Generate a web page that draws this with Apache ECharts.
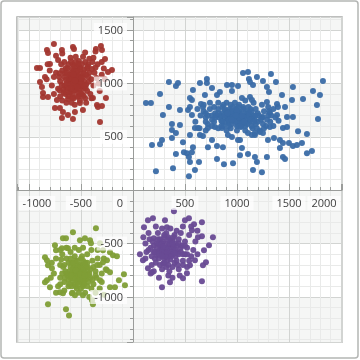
<!DOCTYPE html>
<html>
<head>
<meta charset="utf-8">
<script src="https://cdn.jsdelivr.net/npm/echarts@6/dist/echarts.min.js"></script>
<style>
html,body{margin:0;padding:0;background:#fff;}
#c{width:360px;height:360px;}
</style>
</head>
<body>
<div id="c"></div>
<script>
const redPoints = [
[-760,1370],[-827,1313],[-817,1285],[-683,1313],[-577,1341],[-567,1323],[-308,1351],[-298,1313],[-356,1323],[-269,1229],[-923,1144],[-894,1144],[-798,1182],[-202,1126],[-240,1107],[-894,1013],[-846,1060],[-875,966],[-865,910],[-865,872],[-817,872],[-731,844],[-750,769],[-702,769],[-683,675],[-625,704],[-577,666],[-673,732],[-558,732],[-481,750],[-346,797],[-337,779],[-298,788],[-260,863],[-317,638],[-385,863],[-510,816],
[-560,1010],[-600,1040],[-520,980],[-640,960],[-480,1060],[-590,1100],[-530,920],[-700,1020],[-450,990],[-620,880],[-510,1150],[-680,1120],[-420,1100],[-570,860],[-660,1060],[-490,900],[-540,1080],[-610,990],[-470,1130],[-720,950],[-400,1040],[-580,1180],[-650,900],[-500,1020],[-550,940],[-630,1140],[-440,930],[-590,820],[-760,1060],[-380,980],[-520,1210],[-700,880],[-460,860],[-540,1000],[-580,1060],[-620,1020],[-500,1090],[-560,960],[-660,980],[-430,1180],[-740,1100],[-600,920],[-480,950],[-530,1040],[-570,1120],[-690,1180],[-410,900],[-350,1050],[-780,980],[-640,820],[-510,840],[-460,1200],[-360,1150],[-330,1000],[-720,1220],[-600,1240],[-550,1250],[-480,1250],[-420,1230],[-390,1200],[-340,1180],[-370,1100],[-320,930],[-800,1120],[-760,900],[-680,840],[-560,800],[-450,820],[-400,860],[-620,1180],[-660,1200],[-540,1160],[-500,970],[-590,970],[-470,1020],[-640,1100],[-710,1060],[-430,1060],[-520,880],[-580,900],[-610,1080],[-550,1050],[-490,1180],[-530,1120],[-670,940],[-440,1140],[-560,1080],[-590,1020],[-510,1060],[-620,950],[-450,1080],[-380,1240],[-300,1080],[-300,1200],[-280,1140],[-270,1040],[-830,1040],[-820,1180],[-740,1260],[-680,1280],[-460,1290],[-360,1300],
[-545,1025],[-575,995],[-525,1065],[-605,1055],[-565,935],[-495,1005],[-635,1005],[-585,1135],[-515,945],[-655,1095],[-475,1095],[-545,1115],[-615,915],[-455,955],[-685,985],[-535,875],[-595,955],[-505,1135],[-565,1165],[-645,1145],[-425,1015],[-705,1095],[-525,1185],[-585,865],[-475,885],[-665,915],[-435,1155],[-555,1025],[-615,1045],[-495,1045],[-575,1085],[-535,965],[-645,1035],[-465,975],[-595,1205],[-705,935],[-395,1135],[-625,855],[-505,905],[-555,1200]
];
const bluePoints = [
[125,816],[173,816],[260,900],[346,1013],[413,975],[433,1004],[346,779],[288,704],[452,750],[375,619],[375,563],[413,535],[375,488],[279,469],[260,431],[183,422],[413,338],[385,206],[221,178],[452,610],
[1058,1097],[1106,1107],[1327,1088],[1192,1060],[1115,1041],[1125,1013],[1375,1013],[1250,1022],[711,1041],[711,1004],[644,1004],[904,985],[952,985],[1010,975],[1154,985],[1288,966],[1308,919],[1538,966],[1827,1022],[1731,929],[1798,891],[577,938],[952,929],[760,957],[836,919],[808,891],[692,891],[548,863],[567,844],[1048,863],[1125,872],[1144,844],[1288,825],[1433,891],[1529,844],[1635,854],[1769,797],[1779,666],[1385,807],[1394,779],[1462,779],[654,807],[673,779],[548,779],[529,750],[567,704],[1481,685],[1538,685],[1385,704],[1250,685],[1317,722],[1481,591],[1442,582],[1587,553],[1673,525],[1317,591],[1221,544],[1250,535],[1173,516],[1298,469],[1356,488],[1413,469],[1413,394],[1442,441],[1500,441],[1538,413],[1577,422],[1625,441],[1721,366],[1673,347],[1442,310],[1462,291],[1288,310],[1173,310],[1192,263],[1106,338],[1029,328],[1048,394],[1154,188],[1240,169],[962,253],[875,244],[808,291],[635,263],[596,188],[538,131],[490,356],[519,347],[577,403],[567,356],[538,310],[548,263],[481,450],[721,403],[808,413],[865,403],[1010,469],[1029,469],[760,469],[913,516],[952,497],[644,516],[673,507],[548,516],[596,582],[625,582],[721,582],[788,591],[856,582],[1106,535],[1144,516],[1173,535],[1038,591],
[980,680],[900,700],[1050,660],[850,650],[1100,720],[950,620],[1020,740],[800,700],[1150,680],[930,760],[870,600],[1080,600],[1000,700],[960,650],[1120,640],[780,640],[1200,720],[1060,780],[890,740],[820,760],[1180,620],[940,580],[1010,610],[1070,700],[910,670],[860,720],[990,760],[1130,760],[760,700],[1240,680],[1030,650],[970,720],[880,680],[1160,700],[920,630],[1040,700],[1090,660],[840,700],[1000,640],[950,690],[1110,700],[1200,640],[1260,740],[740,760],[700,680],[720,620],[680,740],[650,700],[1300,700],[1320,640],[1280,600],[1220,560],[1150,580],[1080,560],[1000,560],[900,560],[820,580],[760,600],[1240,800],[1160,820],[1080,840],[980,820],[900,820],[820,820],[740,820],[680,800],[1300,780],[1350,760],[1400,650],[1350,600],[620,760],[600,640],[640,580],[700,560],[1030,720],[960,740],[1050,620],[930,700],[1000,670],[1070,680],[890,640],[1120,680],[1010,780],[940,800],[1180,760],[860,780],[790,720],[1140,600],[1250,620],[700,720],
[1000,720],[960,700],[1040,680],[920,660],[1080,740],[880,700],[1120,720],[1000,600],[940,740],[1060,640],[830,680],[1170,660],[980,640],[1020,680],[900,740],[1100,620],[860,640],[1140,740],[960,780],[1060,760],[790,680],[1210,700],[920,600],[1040,600],[880,760],[1180,700],[1000,740],[950,660],[1050,700],[1130,660],[820,720],[990,700],[1070,640],[910,720],[1160,640],[1020,800],[870,800],[1110,780],[760,660],[1230,660],[1290,660],[1330,700],[720,700],[1190,580],[850,600],[1260,580],[780,780],[1310,740],[700,640],[1370,680]
];
const greenPoints = [
[-356,-356],[-577,-394],[-673,-450],[-644,-450],[-750,-516],[-740,-563],[-683,-544],[-625,-544],[-510,-469],[-462,-450],[-413,-469],[-404,-497],[-317,-497],[-288,-563],[-221,-582],[-192,-610],[-154,-619],[-250,-657],[-846,-629],[-827,-657],[-817,-704],[-779,-732],[-827,-844],[-846,-863],[-798,-910],[-702,-957],[-673,-966],[-587,-966],[-558,-985],[-481,-985],[-394,-1032],[-385,-1069],[-817,-1069],[-644,-1116],[-615,-1173],[-221,-910],[-173,-910],[-87,-788],[-77,-891],[-135,-844],[-250,-750],[-221,-769],[-317,-844],[-288,-675],
[-510,-800],[-560,-760],[-460,-840],[-600,-820],[-420,-780],[-540,-700],[-480,-900],[-650,-760],[-380,-720],[-590,-900],[-500,-640],[-440,-680],[-620,-680],[-350,-820],[-700,-820],[-520,-960],[-400,-920],[-560,-620],[-470,-740],[-530,-860],[-610,-760],[-450,-800],[-580,-850],[-490,-700],[-660,-860],[-360,-760],[-540,-800],[-500,-860],[-430,-860],[-570,-720],[-640,-640],[-320,-700],[-300,-780],[-700,-700],[-720,-900],[-460,-960],[-380,-880],[-600,-580],[-440,-600],[-520,-560],[-680,-600],[-340,-640],[-760,-780],[-740,-640],[-660,-940],[-580,-960],[-420,-1000],[-320,-920],[-300,-860],[-560,-880],[-480,-780],[-520,-740],[-600,-720],[-450,-720],[-410,-820],[-630,-800],[-550,-660],[-490,-620],[-390,-660],[-670,-720],[-620,-900],[-540,-920],[-470,-880],[-360,-960],[-280,-640],[-260,-740],[-280,-980],[-740,-960],[-790,-820],[-780,-680],[-700,-560],[-640,-540],[-560,-540],[-480,-540],[-400,-560],[-340,-560],[-500,-760],[-530,-820],[-470,-820],[-570,-790],[-440,-760],[-510,-700],[-590,-680],
[-520,-780],[-540,-830],[-490,-810],[-560,-800],[-470,-770],[-600,-780],[-510,-850],[-450,-830],[-580,-740],[-500,-730],[-620,-840],[-430,-800],[-550,-900],[-480,-860],[-530,-720],[-640,-780],[-410,-740],[-600,-640],[-460,-680],[-570,-680],[-680,-780],[-390,-840],[-500,-920],[-440,-900],[-610,-880],[-530,-660],[-660,-700],[-360,-800],[-480,-660],[-700,-880],[-550,-750],[-505,-790],[-575,-825],[-465,-800],[-525,-880],[-595,-800],[-435,-720],[-655,-820],[-345,-700],[-690,-650]
];
const purplePoints = [
[394,-197],[106,-347],[144,-281],[192,-263],[308,-281],[327,-347],[67,-600],[96,-657],[144,-732],[183,-769],[279,-910],[356,-863],[538,-263],[500,-281],[587,-319],[663,-300],[567,-375],[625,-441],[663,-431],[769,-441],[731,-516],[683,-563],[702,-675],[673,-704],[596,-657],[548,-704],[519,-779],[663,-854],[481,-826],
[330,-560],[280,-520],[380,-600],[240,-580],[420,-520],[300,-640],[360,-480],[200,-520],[460,-580],[340,-700],[260,-460],[400,-420],[180,-620],[480,-660],[320,-400],[220,-680],[440,-460],[300,-560],[370,-540],[250,-640],[410,-620],[350,-620],[290,-480],[150,-560],[520,-540],[500,-480],[160,-460],[240,-400],[380,-720],[280,-740],[440,-740],[200,-760],[340,-800],[420,-380],[360,-360],[280,-360],[220,-340],[540,-420],[560,-620],[120,-500],[120,-640],[180,-700],[260,-560],[320,-600],[390,-560],[310,-500],[350,-520],[270,-600],[430,-580],[230,-500],[470,-520],[330,-660],[400,-680],[290,-690],[200,-450],[460,-400],[520,-720],[580,-560],[600,-480],[150,-400],[170,-780],[250,-820],[380,-820],[450,-800],[500,-600],[340,-440],[300,-440],[380,-470],[260,-520],[310,-620],[360,-580],[230,-610],[410,-500],[480,-700],[130,-580],[210,-580],[540,-660],[620,-600],[620,-380],[560,-340],[480,-340],[100,-440],
[330,-540],[300,-580],[360,-600],[280,-560],[350,-500],[310,-540],[390,-530],[250,-600],[410,-560],[330,-620],[270,-500],[360,-650],[230,-540],[440,-600],[300,-680],[380,-500],[200,-580],[460,-540],[340,-460],[280,-620],[420,-660],[250,-500],[320,-720],[390,-440],[210,-640],[480,-600],[300,-420],[350,-760],[170,-540],[500,-520],[260,-700],[430,-700],[190,-480],[440,-500],[330,-580],[370,-620],[290,-530],[400,-590],[240,-460],[520,-600]
];

const X_MIN = -1115, X_MAX = 2010, Y_MIN = -1422, Y_MAX = 1622;

const chart = echarts.init(document.getElementById('c'), null, {renderer: 'canvas'});

const labelBox = {
  fontSize: 11, fontFamily: 'Open Sans', color: '#404040',
  backgroundColor: 'rgba(255,255,255,0.7)', padding: [2, 4, 1, 4]
};

function xFmt(v) {
  if (Math.abs(v % 500) > 0.001) return '';
  if (v === 0) return '{a|0}{s0| }';
  if (v === -1000) return '{s1| }{a|-1000}';
  if (v === 2000) return '{a|2000}{s2| }';
  return '{a|' + v + '}';
}
function yFmt(v) {
  if (Math.abs(v % 500) > 0.001) return '';
  if (v === 0) return '';
  return '{a|' + v + '}';
}

// plot area 17..342 both ways; zero lines at x=133, y=190
const PL = 17, PT = 17, PW = 325, PH = 325;
const ZX = 133, ZY = 190;

const gridAxisCommon = {
  type: 'value', splitNumber: 5, gridIndex: 0,
  axisLine: {show: false, onZero: false}, axisTick: {show: false}, axisLabel: {show: false},
  splitLine: {show: true, lineStyle: {color: '#d2d4d2', width: 1}},
  minorTick: {show: false, splitNumber: 5},
  minorSplitLine: {show: true, lineStyle: {color: '#e9eae9', width: 1}},
  z: 0
};
const hiddenAxis = {type: 'value', show: false, min: 0, max: 1,
  axisLine: {show: false, onZero: false}, splitLine: {show: false}, axisLabel: {show: false}, axisTick: {show: false}};

const series = [
  {data: redPoints, color: '#a2362f'},
  {data: bluePoints, color: '#3a6ba7'},
  {data: greenPoints, color: '#7f9e36'},
  {data: purplePoints, color: '#684a94'}
].map(s => ({
  type: 'scatter', xAxisIndex: 0, yAxisIndex: 0, data: s.data,
  symbolSize: 6, itemStyle: {color: s.color, opacity: 0.95}, z: 2,
  silent: true, animation: false
}));

chart.setOption({
  animation: false,
  backgroundColor: '#ffffff',
  grid: [
    {left: PL, top: PT, width: PW, height: PH, show: true, borderColor: '#a9aba9', borderWidth: 1.5,
      backgroundColor: 'transparent', containLabel: false, outerBoundsMode: 'none'},
    {left: PL, top: PT, width: PW, height: ZY - PT, show: false, containLabel: false, outerBoundsMode: 'none'},
    {left: ZX, top: PT, width: PL + PW - ZX, height: PH, show: false, containLabel: false, outerBoundsMode: 'none'}
  ],
  graphic: [{
    type: 'rect', shape: {x: 1, y: 1, width: 357, height: 357, r: 3},
    style: {fill: 'none', stroke: '#b4b6b4', lineWidth: 1.5}, z: -1, silent: true
  }],
  xAxis: [
    Object.assign({}, gridAxisCommon, {min: X_MIN, max: X_MAX, position: 'bottom'}),
    {
      type: 'value', gridIndex: 1, min: X_MIN, max: X_MAX, splitNumber: 5, position: 'bottom', z: 10,
      axisLine: {show: true, onZero: false, lineStyle: {color: '#9a9c9a', width: 1}},
      axisTick: {show: true, inside: true, length: 6, lineStyle: {color: '#9a9c9a'}},
      minorTick: {show: true, splitNumber: 5, length: 3, lineStyle: {color: '#9a9c9a'}},
      splitLine: {show: false}, minorSplitLine: {show: false}, splitArea: {show: false},
      axisLabel: {show: true, margin: 6, showMinLabel: false, showMaxLabel: false, formatter: xFmt,
        rich: {a: labelBox, s0: {width: 26}, s1: {width: 16}, s2: {width: 34}}}
    },
    Object.assign({gridIndex: 2, position: 'bottom'}, hiddenAxis)
  ],
  yAxis: [
    Object.assign({}, gridAxisCommon, {min: Y_MIN, max: Y_MAX, position: 'left',
      splitArea: {show: true, areaStyle: {color: ['#f5f6f5', '#ffffff']}}}),
    Object.assign({gridIndex: 1, position: 'left'}, hiddenAxis),
    {
      type: 'value', gridIndex: 2, min: Y_MIN, max: Y_MAX, splitNumber: 5, position: 'left', z: 10,
      axisLine: {show: true, onZero: false, lineStyle: {color: '#9a9c9a', width: 1}},
      axisTick: {show: true, inside: false, length: 6, lineStyle: {color: '#9a9c9a'}},
      minorTick: {show: true, splitNumber: 5, length: 3, lineStyle: {color: '#9a9c9a'}},
      splitLine: {show: false}, minorSplitLine: {show: false}, splitArea: {show: false},
      axisLabel: {show: true, margin: 6, showMinLabel: false, showMaxLabel: false, formatter: yFmt,
        rich: {a: labelBox}}
    }
  ],
  series: series
});
</script>
</body>
</html>
